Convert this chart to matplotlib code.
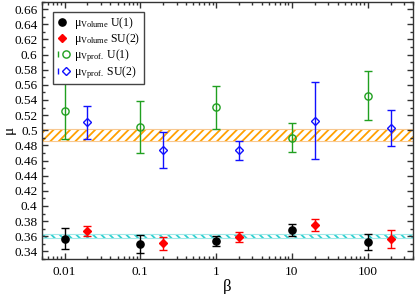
import numpy as np
import matplotlib
matplotlib.use("Agg")
import matplotlib.pyplot as plt
from matplotlib.lines import Line2D
from matplotlib.legend_handler import HandlerTuple
from matplotlib.ticker import FixedLocator, NullFormatter, LogLocator, FuncFormatter

plt.rcParams['font.family'] = ['Liberation Serif', 'DejaVu Serif']
plt.rcParams['mathtext.fontset'] = 'custom'
plt.rcParams['mathtext.rm'] = 'Liberation Serif'
plt.rcParams['mathtext.it'] = 'Liberation Serif:italic'
plt.rcParams['hatch.linewidth'] = 1.3

# ---- data ----
beta_u1 = [0.01, 0.1, 1, 10, 100]
beta_su2 = [0.02, 0.2, 2, 20, 200]

vol_u1 = [0.357, 0.3497, 0.354, 0.368, 0.3527]
vol_u1_err = [0.0137, 0.012, 0.0066, 0.008, 0.0105]
vol_su2 = [0.3672, 0.3506, 0.3585, 0.3748, 0.3563]
vol_su2_err = [0.0066, 0.0085, 0.0066, 0.0082, 0.012]

vprof_u1 = [0.5257, 0.5042, 0.5302, 0.4903, 0.5456]
vprof_u1_err = [0.037, 0.034, 0.028, 0.019, 0.032]
vprof_su2 = [0.5104, 0.4738, 0.4733, 0.5125, 0.5033]
vprof_su2_err = [0.022, 0.024, 0.0122, 0.051, 0.0235]

band_vprof = (0.486, 0.502)
band_vol = (0.3575, 0.3632)

labels = [r'$\mathrm{μ_{Volume}}$ U(1)', r'$\mathrm{μ_{Volume}}$ SU(2)',
          r'$\mathrm{μ_{Vprof.}}$ U(1)', r'$\mathrm{μ_{Vprof.}}$ SU(2)']

xticks = [0.01, 0.1, 1, 10, 100]
yticks = np.round(np.arange(0.34, 0.661, 0.02), 2)

# ---- figure ----
fig = plt.figure(figsize=(4.15, 2.94), dpi=100)
ax = fig.add_axes([41.7/415, 1 - 259/294, 371.7/415, 257.5/294])
ax.set_xscale('log')
ax.set_xlim(0.005, 400)
ax.set_ylim(0.33, 0.67)

# bands
ax.fill_between([0.005, 400], band_vprof[0], band_vprof[1], facecolor='none',
                edgecolor='#ffa000', hatch='////', linewidth=0, zorder=1)
for yb in band_vprof:
    ax.axhline(yb, color='#f8c890', lw=0.8, zorder=1)
ax.fill_between([0.005, 400], band_vol[0], band_vol[1], facecolor='none',
                edgecolor='#30d0d0', hatch='\\\\\\\\', linewidth=0, zorder=1)
for yb in band_vol:
    ax.axhline(yb, color='#a0e8e8', lw=0.8, zorder=1)

cap = 2.9
green = '#20a020'
blue = '#1010ff'
ax.errorbar(beta_u1, vol_u1, yerr=vol_u1_err, fmt='o', color='black', ms=5.2,
            capsize=cap, elinewidth=1, capthick=1, zorder=3)
ax.errorbar(beta_su2, vol_su2, yerr=vol_su2_err, fmt='D', color='red', ms=4.0,
            capsize=cap, elinewidth=1, capthick=1, zorder=3)
ax.errorbar(beta_u1, vprof_u1, yerr=vprof_u1_err, fmt='o', color=green, mfc='none',
            ms=5.2, mew=1, capsize=cap, elinewidth=1, capthick=1, zorder=3)
ax.errorbar(beta_su2, vprof_su2, yerr=vprof_su2_err, fmt='D', color=blue, mfc='none',
            ms=4.3, mew=1, capsize=cap, elinewidth=1, capthick=1, zorder=3)

# ticks
ax.xaxis.set_major_locator(FixedLocator(xticks))
ax.xaxis.set_major_formatter(FuncFormatter(lambda v, p: f'{v:g}'))
ax.xaxis.set_minor_locator(LogLocator(base=10, subs=np.arange(2, 10), numticks=20))
ax.xaxis.set_minor_formatter(NullFormatter())
ax.yaxis.set_major_locator(FixedLocator(yticks))
ax.yaxis.set_major_formatter(FuncFormatter(lambda v, p: f'{round(v, 2):g}'))
ax.yaxis.set_minor_locator(FixedLocator(np.round(np.arange(0.33, 0.671, 0.01), 2)))
ax.tick_params(which='both', direction='in', top=True, right=True, colors='#333333',
               labelcolor='black', labelsize=9.5)
ax.tick_params(which='major', length=4, width=1)
ax.tick_params(which='minor', length=2, width=1)
ax.tick_params(axis='y', pad=3)
ax.tick_params(axis='x', pad=5)
for s in ax.spines.values():
    s.set_color('#333333')
    s.set_linewidth(1)

ax.set_xlabel('β', fontsize=12, labelpad=1)
ax.set_ylabel('μ', fontsize=11, va='center')
ax.yaxis.set_label_coords(-0.088, 0.5)

# legend
h1 = Line2D([], [], marker='o', color='black', ls='none', ms=5.2)
h2 = Line2D([], [], marker='D', color='red', ls='none', ms=4.0)
h3 = (Line2D([], [], marker='|', color=green, ls='none', ms=5.0, mew=1),
      Line2D([], [], marker='o', color=green, mfc='none', ls='none', ms=5.2, mew=1))
h4 = (Line2D([], [], marker='|', color=blue, ls='none', ms=5.0, mew=1),
      Line2D([], [], marker='D', color=blue, mfc='none', ls='none', ms=4.3, mew=1))
leg = ax.legend([h1, h2, h3, h4], labels, loc='upper left',
                bbox_to_anchor=(0.0296, 0.960), borderaxespad=0, fontsize=8.5,
                frameon=True, fancybox=False, framealpha=1, edgecolor='#444444',
                handlelength=1.0, handletextpad=0.5, labelspacing=0.0,
                borderpad=0.3, handler_map={tuple: HandlerTuple(ndivide=None)})
leg.get_frame().set_linewidth(1)

fig.savefig('out.png', dpi=100)
